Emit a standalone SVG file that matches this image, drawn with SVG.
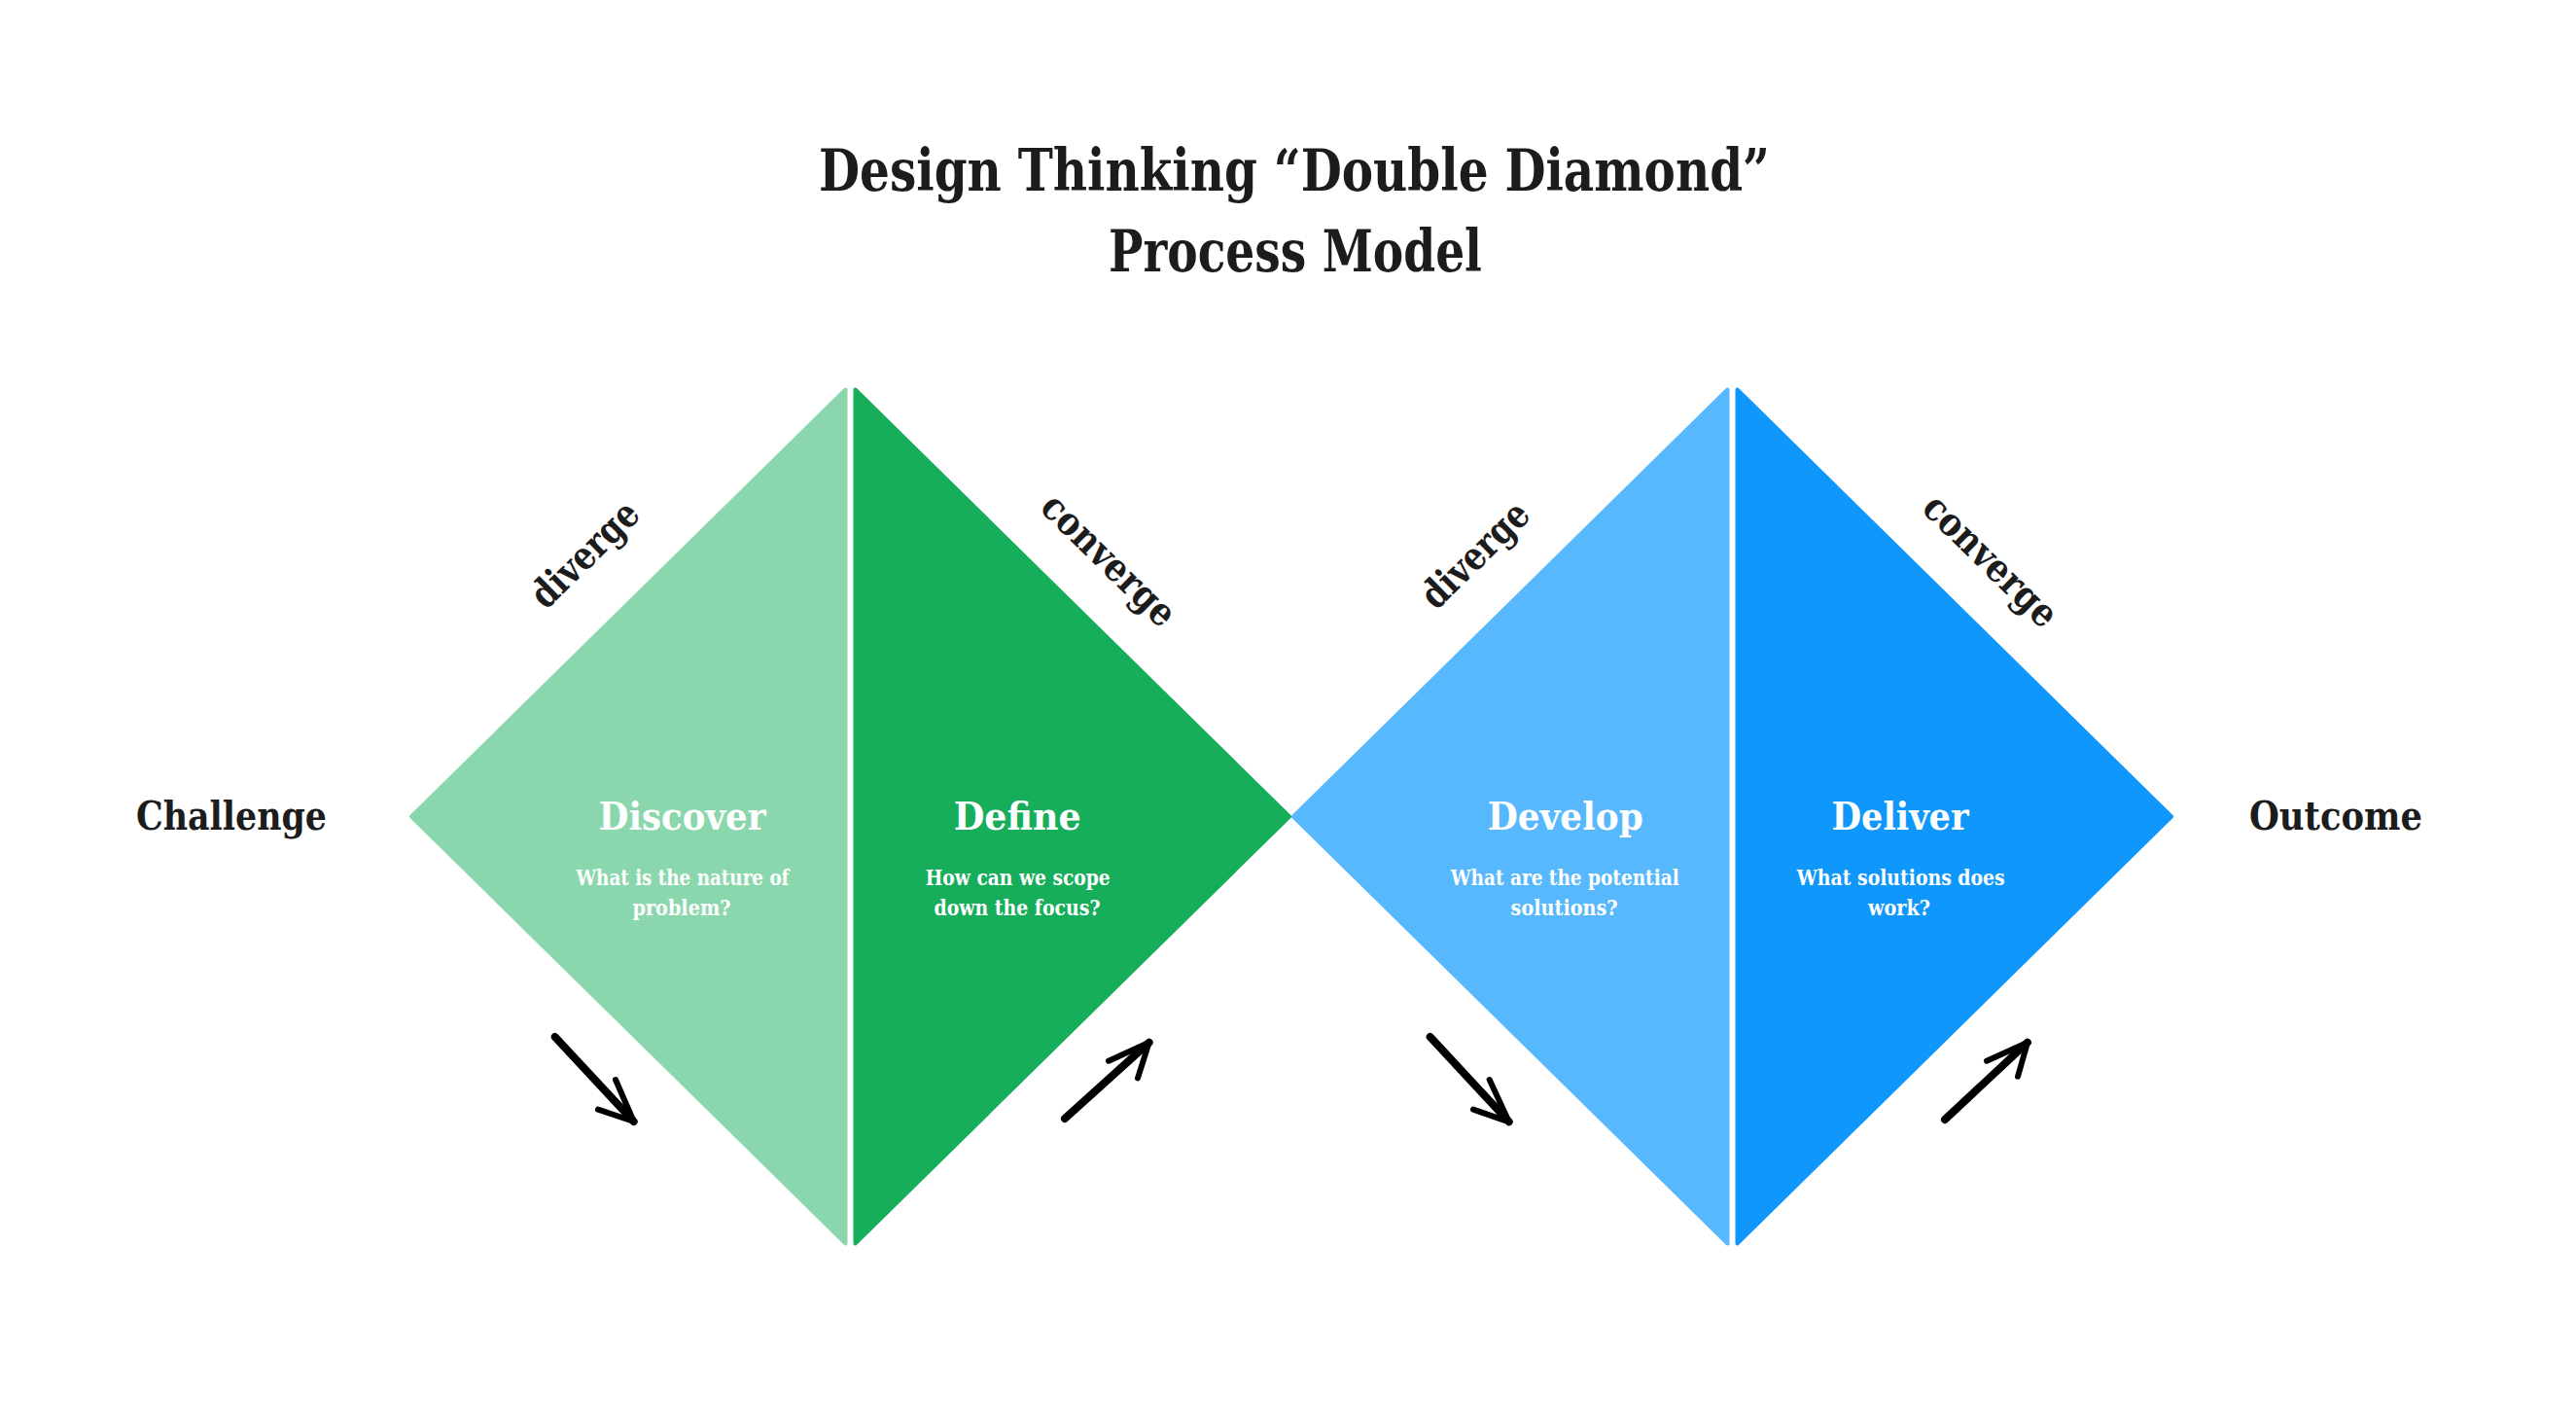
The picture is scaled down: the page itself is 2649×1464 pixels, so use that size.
<svg xmlns="http://www.w3.org/2000/svg" width="2649" height="1464" viewBox="0 0 2649 1464">
<style>
  text { font-family: "DejaVu Serif", "Liberation Serif", serif; font-weight: bold; }
  .title { font-size: 60px; fill: #1c1c1c; text-anchor: middle; }
  .side { font-size: 41px; fill: #1c1c1c; }
  .edge { font-size: 40px; fill: #1c1c1c; text-anchor: middle; }
  .phase { font-size: 39px; fill: #ffffff; text-anchor: middle; }
  .q { font-size: 22px; fill: #ffffff; text-anchor: middle; }
  .tri { stroke-width: 4; stroke-linejoin: round; }
  .lg { fill: #8BD7AD; stroke: #8BD7AD; }
  .dg { fill: #16AD5B; stroke: #16AD5B; }
  .lb { fill: #57B8FD; stroke: #57B8FD; }
  .db { fill: #0F97FC; stroke: #0F97FC; }
  .arrow { fill: none; stroke: #000000; stroke-linecap: round; stroke-linejoin: round; }
  .shaft { stroke-width: 8; }
  .head { stroke-width: 6; }
</style>
<rect width="2649" height="1464" fill="#ffffff"/>

<g id="title">
  <text class="title" x="1331" y="196" textLength="978" lengthAdjust="spacingAndGlyphs">Design Thinking “Double Diamond”</text>
  <text class="title" x="1332" y="279" textLength="384" lengthAdjust="spacingAndGlyphs">Process Model</text>
</g>

<g id="challenge">
  <text class="side" x="140" y="853" textLength="196" lengthAdjust="spacingAndGlyphs">Challenge</text>
</g>
<g id="outcome">
  <text class="side" x="2313" y="853" textLength="178" lengthAdjust="spacingAndGlyphs">Outcome</text>
</g>

<g id="discover">
  <polygon class="tri lg" points="423,839.5 869.5,400.5 869.5,1278.5"/>
  <text class="phase" x="701.5" y="853" textLength="172" lengthAdjust="spacingAndGlyphs">Discover</text>
  <text class="q" x="702" y="910" textLength="219" lengthAdjust="spacingAndGlyphs">What is the nature of</text>
  <text class="q" x="701" y="941" textLength="101" lengthAdjust="spacingAndGlyphs">problem?</text>
</g>
<g id="define">
  <polygon class="tri dg" points="879.5,400.5 879.5,1278.5 1326,839.5"/>
  <text class="phase" x="1046.2" y="853" textLength="131" lengthAdjust="spacingAndGlyphs">Define</text>
  <text class="q" x="1046.7" y="910" textLength="190" lengthAdjust="spacingAndGlyphs">How can we scope</text>
  <text class="q" x="1046" y="941" textLength="171" lengthAdjust="spacingAndGlyphs">down the focus?</text>
</g>
<g id="develop">
  <polygon class="tri lb" points="1330,839.5 1776.5,400.5 1776.5,1278.5"/>
  <text class="phase" x="1609.7" y="853" textLength="160" lengthAdjust="spacingAndGlyphs">Develop</text>
  <text class="q" x="1609.2" y="910" textLength="235" lengthAdjust="spacingAndGlyphs">What are the potential</text>
  <text class="q" x="1608.6" y="941" textLength="110" lengthAdjust="spacingAndGlyphs">solutions?</text>
</g>
<g id="deliver">
  <polygon class="tri db" points="1786.5,400.5 1786.5,1278.5 2233,839.5"/>
  <text class="phase" x="1954" y="853" textLength="141" lengthAdjust="spacingAndGlyphs">Deliver</text>
  <text class="q" x="1954.7" y="910" textLength="214" lengthAdjust="spacingAndGlyphs">What solutions does</text>
  <text class="q" x="1953" y="941" textLength="64" lengthAdjust="spacingAndGlyphs">work?</text>
</g>

<g id="diverge-1" transform="translate(603.5,572) rotate(-44.4)">
  <text class="edge" x="0" y="10.5" textLength="138" lengthAdjust="spacingAndGlyphs">diverge</text>
</g>
<g id="converge-1" transform="translate(1135,581) rotate(44.4)">
  <text class="edge" x="0" y="6" textLength="176" lengthAdjust="spacingAndGlyphs">converge</text>
</g>
<g id="diverge-2" transform="translate(1519,572.5) rotate(-44.4)">
  <text class="edge" x="0" y="10.5" textLength="138" lengthAdjust="spacingAndGlyphs">diverge</text>
</g>
<g id="converge-2" transform="translate(2041.7,581.7) rotate(44.4)">
  <text class="edge" x="0" y="6" textLength="176" lengthAdjust="spacingAndGlyphs">converge</text>
</g>

<g id="connectors">
  <path class="arrow shaft" d="M570.7,1066 L651.7,1153"/>
  <path class="arrow head" d="M633,1110 L651.7,1153 L615,1140.7"/>
  <path class="arrow shaft" d="M1095,1150 L1181.7,1071.7"/>
  <path class="arrow head" d="M1140,1090.7 L1181.7,1071.7 L1170,1108.3"/>
  <path class="arrow shaft" d="M1470.7,1066 L1551.7,1153.3"/>
  <path class="arrow head" d="M1531.7,1110 L1551.7,1153.3 L1515,1140.7"/>
  <path class="arrow shaft" d="M2000,1151 L2085,1071.7"/>
  <path class="arrow head" d="M2043,1090.7 L2085,1071.7 L2075,1106.7"/>
</g>
</svg>
